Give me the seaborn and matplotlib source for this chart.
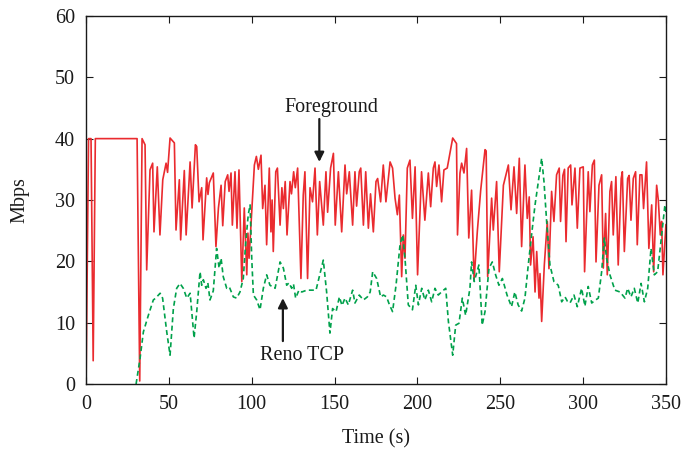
import pandas as pd
import matplotlib
matplotlib.use("Agg")
import matplotlib.pyplot as plt
import seaborn as sns

# ── data ────────────────────────────────────────────────
fg_time = [0, 1.5, 3, 4.3, 5.6, 30.8, 32.4, 33.8, 35.6, 36.6, 38.6, 40.2, 41, 43, 44.6,
           46.3, 48.3, 49.2, 50.7, 53.3, 54.3, 56.3, 57.1, 59.3, 60.4, 62.8, 64, 66, 66.8,
           68.2, 69.8, 70.6, 72.8, 73.6, 74.4, 76.8, 78.4, 79.9, 81.5, 82.5, 84, 85.5, 86.3,
           87.5, 88.3, 89.9, 91.1, 92.3, 94, 95.5, 97, 97.7, 98.4, 101.6, 102.8, 104, 105.6,
           106.6, 108, 109, 110.6, 111.6, 112.3, 113, 114.5, 115.5, 117.1, 118.2, 119.1,
           120.2, 121.3, 123.1, 124, 125.3, 126.3, 127.7, 129.7, 131.1, 132.1, 133.7, 135.2,
           136.7, 138.2, 139.6, 141, 142.2, 143.2, 144.8, 145.8, 147.6, 149.3, 150.4, 152.3,
           154.3, 156.3, 157.3, 158.9, 160.9, 162.3, 163.3, 164.9, 165.8, 167.4, 168.8,
           170.4, 171.7, 173.4, 175, 176, 177.8, 179.4, 181, 183.5, 185, 186.5, 187.9, 189.1,
           190.5, 191.5, 192.5, 193.9, 195.5, 197, 198.6, 200.1, 202.5, 204.5, 206.6, 208,
           209.6, 210.6, 211.6, 213, 214.6, 216, 218, 219.3, 221.3, 223.6, 224.2, 225.7,
           226.7, 228.1, 229.7, 231, 232.7, 234.2, 236.2, 238.2, 240.8, 241.5, 242.4, 244.8,
           245.8, 247.8, 249.4, 251.9, 254.9, 256.5, 258.3, 259.9, 261.5, 262.9, 264.9,
           266.3, 267.5, 268.3, 269.8, 271, 272, 273.4, 274, 275, 276.6, 278.4, 279.4, 281,
           282.4, 284, 285.6, 286.4, 287.8, 288.8, 289.7, 291, 292.5, 293.3, 295.1, 296.5,
           298.1, 300.1, 300.9, 303.1, 304.1, 305.6, 306.8, 307.8, 309.6, 311.2, 312.2,
           313.6, 314.6, 316.2, 317.2, 318.2, 319.8, 321.2, 323, 323.7, 324.9, 326.9, 327.8,
           328.9, 330.3, 331.7, 332.7, 334.3, 335.5, 336.5, 338.3, 339.7, 341.4, 342.6,
           344.4, 345.4, 346.6, 347.4, 348.2, 349.4, 350]
fg_mbps = [0, 40, 40, 3.8, 40, 40, 0.5, 40, 39, 18.6, 34.9, 36, 24.8, 35.4, 24.3,
           33.3, 36, 34.5, 40.1, 39.3, 25.1, 33.3, 23.5, 34.8, 24.3, 36.2, 28.7, 39, 38.7,
           29.7, 32, 23.5, 33.6, 30.9, 32.8, 34.4, 22.4, 28.7, 32.4, 25.8, 33, 34.1, 31.4,
           34.4, 25.9, 34.6, 25.4, 34.9, 16.7, 28.7, 17.8, 24.6, 20.5, 35.7, 37.1, 35, 37.3,
           28.6, 32.4, 22.7, 35.2, 24.8, 30, 21.6, 34.6, 35.2, 25.9, 32, 28.6,
           33, 24.3, 33, 31, 34.6, 32, 35.2, 17.2, 30.8, 34.6, 17.2, 32,
           29.7, 35.2, 24.3, 33, 29.2, 25.9, 34.6, 28, 35.2, 37.6, 25.9, 34.6,
           24.8, 35.7, 31, 34.6, 25.9, 34.6, 29, 34.6, 35.2, 25.9, 34.6,
           25.4, 31, 24.8, 33, 33.5, 29.7, 35.7, 29.7, 36.2, 35.2, 30.3, 27.6, 30.8,
           17.5, 24.3, 20.5, 35.2, 36.5, 27, 35.4, 17.8, 34.6, 26.7, 34.4, 28.9,
           35.2, 36.2, 32.2, 35.7, 29.7, 34.9, 35.2, 37.1, 40.1, 39.2, 24.3, 34.4,
           36, 34.4, 38.4, 23.8, 31.6, 17, 25, 31.6, 38.2, 38, 17.5, 30.3,
           25.1, 33, 18.3, 32.4, 35.7, 28.4, 35.4, 27.8, 36.8, 22.4, 35.7,
           27, 30.5, 19.4, 24, 15, 21.6, 14, 18, 10.2, 19.4, 26.5, 18.8, 31.4,
           26.5, 34.1, 35.2, 26.5, 34, 35, 23.2, 35.2, 35.7, 29.2, 35.2, 25.4,
           35.2, 35.4, 18.3, 34.6, 28.1, 35.7, 36.5, 19.9, 32.4, 34.1, 18.9,
           27.8, 17.8, 31.4, 33, 24.3, 33.8, 19.4, 33.5, 34.6, 21.6, 33.5, 34,
           26.7, 33.5, 34.6, 22.7, 34.1, 34.1, 28.6, 36.2, 22.1, 29.2, 18.3,
           32.4, 30, 24.3, 26.5, 17.8, 23.2, 26]

reno_time = [30.2, 32.6, 34.6, 37.6, 40.6, 42, 44.7, 46.2, 48.7, 50.7, 52.7, 54.7, 56.7,
             58.7, 60.8, 62.8, 65.2, 66.8, 68.8, 69.8, 70.8, 72.4, 73.5, 74.8, 76.8, 78.8,
             80.3, 81.5, 82.8, 84.9, 86.5, 88.9, 90.9, 92.9, 94.9, 96.4, 97.9, 99, 100, 101,
             103, 105, 107, 109, 111, 114.1, 117.1, 119.1, 121.1, 122.5, 124.1, 125.2, 126.5,
             128.5, 130.2, 133.2, 136.2, 138.8, 141.2, 143.2, 145.2, 147.2, 148.8, 150.9,
             152.9, 154.5, 156.3, 158.3, 160.9, 162.3, 164.9, 167.4, 169.8, 171.5, 173,
             175.4, 177.8, 179.5, 181.4, 183, 185, 187.1, 189.5, 191.1, 192.5, 194.5, 197,
             199, 200.6, 202.6, 204.5, 206.6, 208.6, 210.6, 212.6, 214.5, 217.1, 218.7,
             221.3, 223.1, 225.1, 227.1, 229.1, 231.7, 232.7, 234.3, 237.1, 239.1, 240.8,
             243.2, 245.2, 247.2, 249.2, 251.3, 254.1, 256.8, 258.8, 260.8, 262.9, 264.9,
             266.9, 268.9, 271, 273, 275, 276.4, 278, 280, 282.4, 285, 287.1, 289.1, 290.5,
             292.1, 294.5, 296.5, 299.1, 301.1, 303.1, 305.2, 307, 309.2, 311.2, 312.8,
             314.2, 316.2, 319.2, 322.3, 325.3, 326.9, 328.9, 330.9, 333, 335, 337, 339,
             341, 343, 345, 347.4, 349.4, 350]
reno_mbps = [0, 4.2, 8.5, 11.2, 13.7, 14, 14.8, 14, 8.5, 4.7, 12.3, 15.6, 16.4,
             15.6, 14, 14.8, 7.5, 11.8, 18.3, 16.1, 17, 15.6, 16.5, 13.7, 15.2, 22.1,
             18.9, 20.5, 17.5, 15.6, 15.8, 14.2, 14, 15, 17.2, 23.2, 27.6, 29.2, 20.5, 14.5,
             13.7, 12.1, 15.6, 17.8, 16.1, 15.6, 19.9, 18.9, 16.1, 16.5, 15.6, 16.3, 14,
             15.3, 15, 15.3, 15.3, 15.3, 18, 20.2, 15, 8.3, 12.3, 11.8,
             14.2, 12.8, 14, 12.9, 15.3, 13.2, 14.5, 13.7, 14.2, 15, 18.3,
             17.2, 14.2, 14.5, 14.2, 13, 11.8, 16.1, 22.7, 24.3, 20.5, 12.9, 12.1,
             16.1, 12.9, 15.6, 13.7, 15.3, 13.4, 15.6, 14.5, 15, 15.6, 10.2,
             4.7, 9.6, 9.9, 14, 11.2, 15.6, 19.9, 16.7, 19.4, 9.6, 11.8,
             18.9, 19.9, 17.8, 16.1, 17.2, 14.5, 12.6, 15, 12.9, 11.9, 14,
             19.4, 24.3, 29.2, 33, 36.8, 33, 26.5, 19.4, 16.7, 16.1, 13.4, 14.2, 13.5,
             13.2, 14.5, 12.6, 15.6, 12.7, 15.9, 13.2, 13.6, 14, 18.3, 23.8,
             20.5, 17.8, 15.3, 15, 14, 15.6, 14.2, 15.6, 13.2, 16.4, 13.4, 15.6,
             22.1, 17.8, 18.3, 24.3, 29.2, 28]

x_ticks = [0, 50, 100, 150, 200, 250, 300, 350]
y_ticks = [0, 10, 20, 30, 40, 50, 60]

RED = "#ea2b2f"
GREEN = "#00a14b"

# ── style ───────────────────────────────────────────────
sns.set_style("ticks")
plt.rcParams.update({
    "font.family": ["Liberation Serif", "DejaVu Serif"],
    "font.size": 14.5,
    "axes.edgecolor": "#1a1a1a",
    "axes.linewidth": 1.0,
    "xtick.direction": "in",
    "ytick.direction": "in",
    "xtick.top": True,
    "ytick.right": True,
    "xtick.color": "#1a1a1a",
    "ytick.color": "#1a1a1a",
    "text.color": "#1a1a1a",
    "axes.labelcolor": "#1a1a1a",
})

fg = pd.DataFrame({"time": fg_time, "mbps": fg_mbps})
reno = pd.DataFrame({"time": reno_time, "mbps": reno_mbps})

fig = plt.figure(figsize=(6.83, 4.55), dpi=100)
ax = fig.add_axes([0.126, 0.156, 0.849, 0.809])

sns.lineplot(data=fg, x="time", y="mbps", ax=ax, color=RED, lw=1.2,
             errorbar=None, estimator=None)
sns.lineplot(data=reno, x="time", y="mbps", ax=ax, color=GREEN, lw=1.2,
             linestyle=(0, (3, 2)), errorbar=None, estimator=None)

ax.set_xlim(0, 350)
ax.set_ylim(0, 60)
ax.set_xticks(x_ticks)
ax.set_yticks(y_ticks)
ax.tick_params(length=5, width=0.8, labelsize=14.5)
ax.tick_params(axis="x", pad=8)
ax.tick_params(axis="y", pad=8)
ax.set_xlabel("Time (s)", fontsize=14.5, labelpad=11)
ax.set_ylabel("Mbps", fontsize=14.5, labelpad=18)
for s in ax.spines.values():
    s.set_visible(True)

# annotations
arrow = dict(arrowstyle="-|>", color="#1a1a1a", lw=1.6, mutation_scale=14,
             shrinkA=0, shrinkB=0)
ax.annotate("", xy=(140.8, 36.2), xytext=(140.8, 43.2), arrowprops=arrow)
ax.text(148, 45.1, "Foreground", ha="center", va="center", fontsize=14.5)
ax.annotate("", xy=(118.8, 14), xytext=(118.8, 7), arrowprops=arrow)
ax.text(130.5, 4.7, "Reno TCP", ha="center", va="center", fontsize=14.5)

plt.savefig("out.png", dpi=100)
